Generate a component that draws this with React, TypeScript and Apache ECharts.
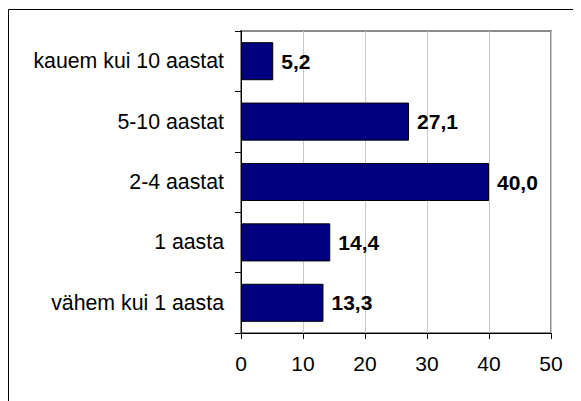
import React, { useEffect, useRef } from "react";
import * as echarts from "echarts";

const categories = [
  "kauem kui 10 aastat",
  "5-10 aastat",
  "2-4 aastat",
  "1 aasta",
  "vähem kui 1 aasta",
];
const values = [5.2, 27.1, 40.0, 14.4, 13.3];
const xTicks = [0, 10, 20, 30, 40, 50];

const FONT = "'Liberation Sans', Arial, sans-serif";

export default function App() {
  const ref = useRef<HTMLDivElement>(null);
  useEffect(() => {
    if (!ref.current) return;
    const chart = echarts.init(ref.current, null, { renderer: "svg" });
    chart.setOption({
      animation: false,
      backgroundColor: "#ffffff",
      textStyle: { fontFamily: FONT },
      graphic: [
        {
          type: "rect",
          shape: { x: 0.5, y: 1.5, width: 1000, height: 1000 },
          style: { fill: "none", stroke: "#000000", lineWidth: 1 },
          silent: true,
        },
      ],
      grid: {
        left: 233,
        top: 23,
        right: 30,
        bottom: 68,
        show: true,
        borderColor: "#8c8c8c",
        borderWidth: 2,
        backgroundColor: "transparent",
      },
      xAxis: {
        type: "value",
        min: xTicks[0],
        max: xTicks[xTicks.length - 1],
        interval: 10,
        axisLine: { show: true, lineStyle: { color: "#000000", width: 1 } },
        axisTick: { show: true, length: 6, lineStyle: { color: "#000000" } },
        splitLine: { show: true, lineStyle: { color: "#c8c8c8", width: 1 } },
        axisLabel: {
          color: "#000000",
          fontSize: 21,
          fontFamily: FONT,
          margin: 20,
        },
      },
      yAxis: {
        type: "category",
        data: categories,
        inverse: true,
        axisLine: { show: true, lineStyle: { color: "#000000", width: 1 } },
        axisTick: { show: true, length: 6, lineStyle: { color: "#000000" } },
        axisLabel: {
          color: "#000000",
          fontSize: 21.3,
          fontFamily: FONT,
          margin: 17,
        },
        splitLine: { show: false },
      },
      series: [
        {
          type: "bar",
          data: values,
          barCategoryGap: "37%",
          itemStyle: {
            color: "#000080",
            borderColor: "#000000",
            borderWidth: 1,
          },
          label: {
            show: true,
            position: "right",
            distance: 8,
            color: "#000000",
            fontWeight: "bold",
            fontSize: 21,
            fontFamily: FONT,
            formatter: (p: any) => Number(p.value).toFixed(1).replace(".", ","),
          },
        },
      ],
    });
    return () => chart.dispose();
  }, []);
  return <div ref={ref} style={{ width: 573, height: 393 }} />;
}
